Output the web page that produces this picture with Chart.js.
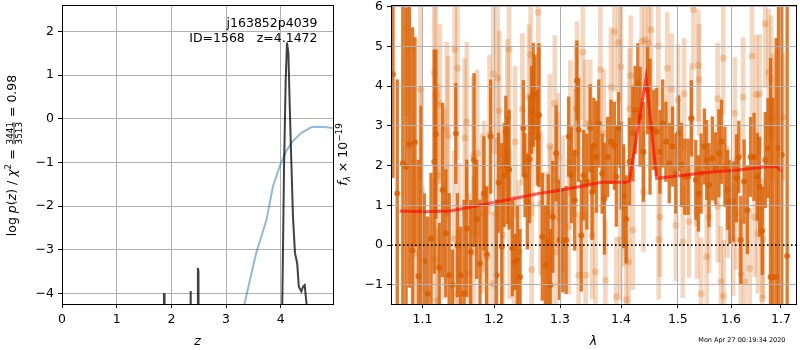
<!DOCTYPE html>
<html>
<head>
<meta charset="utf-8">
<script src="https://cdn.jsdelivr.net/npm/chart.js@4.4.0/dist/chart.umd.min.js"></script>
<style>
  html, body { margin: 0; padding: 0; background: #fff; }
  #wrap { position: relative; width: 800px; height: 350px; overflow: hidden; background: #fff; }
  canvas { position: absolute; top: 0; }
  #pz { left: 0; }
  #sp { left: 330px; }
</style>
</head>
<body>
<div id="wrap">
  <canvas id="pz" width="340" height="350" style="width:340px;height:350px"></canvas>
  <canvas id="sp" width="470" height="350" style="width:470px;height:350px"></canvas>
</div>
<script>
// ---------- redshift probability panel ----------
const objName = 'j163852p4039';
const idLine = 'ID=1568   z=4.1472';

// log p(z)
const pzZ = [0.0, 1.85, 1.865, 1.875, 2.34, 2.353, 2.365, 2.47, 2.485, 2.495,
             2.505, 3.98, 4.03, 4.06, 4.09, 4.114, 4.14, 4.163, 4.181, 4.223,
             4.26, 4.30, 4.33, 4.377, 4.406, 4.437, 4.48, 4.55, 4.95];
const pzLog = [-8, -8, -4.0, -8, -8, -3.95, -8, -8, -3.42, -3.5,
               -8, -8, -4.0, -1.1, 0.88, 1.75, 1.5, 0.33, -0.47, -2.24,
               -3.08, -3.31, -3.85, -3.96, -3.85, -3.81, -4.35, -8, -8];

// scaled chi-square curve
const chiZ = [3.30, 3.45, 3.55, 3.74, 3.857, 3.98, 4.10, 4.22, 4.38, 4.56, 4.65, 4.80, 4.95];
const chiLog = [-4.45, -3.62, -3.08, -2.31, -1.55, -1.09, -0.74, -0.51, -0.32, -0.19, -0.18, -0.19, -0.21];

const zTicks = [0, 1, 2, 3, 4];
const pzTicks = [-4, -3, -2, -1, 0, 1, 2];

// ---------- spectrum panel ----------
const lambdaMin = 1.0588, lambdaMax = 1.7314;
const lambdaTicks = [1.1, 1.2, 1.3, 1.4, 1.5, 1.6, 1.7];
const fluxTicks = [-1, 0, 1, 2, 3, 4, 5, 6];

// first spectrum (dark)
const darkWave = [
  1.0613, 1.0669, 1.0741, 1.0784, 1.0827, 1.0870, 1.0901, 1.0946, 1.0982, 1.1026,
  1.1070, 1.1115, 1.1159, 1.1181, 1.1227, 1.1272, 1.1317, 1.1363, 1.1409, 1.1455,
  1.1478, 1.1524, 1.1571, 1.1608, 1.1664, 1.1711, 1.1749, 1.1796, 1.1853, 1.1891, 1.1949,
  1.2036, 1.2065, 1.2113, 1.2148, 1.2172, 1.2197, 1.2221, 1.2270, 1.2309, 1.2344,
  1.2384, 1.2434, 1.2459, 1.2494, 1.2529, 1.2560, 1.2585, 1.2611, 1.2647, 1.2671,
  1.2723, 1.2774, 1.2815, 1.2851, 1.2887, 1.2939, 1.2991, 1.3044, 1.3096, 1.3138,
  1.3180, 1.3233, 1.3270, 1.3297, 1.3340, 1.3377, 1.3431, 1.3485,
  1.3517, 1.3545, 1.3588, 1.3627, 1.3682, 1.3720, 1.3775, 1.3830, 1.3886, 1.3920,
  1.3959, 1.4003, 1.4043, 1.4088, 1.4145, 1.4202, 1.4242, 1.4288, 1.4328, 1.4386,
  1.4456, 1.4502, 1.4561, 1.4619, 1.4678, 1.4725, 1.4784, 1.4844, 1.4904, 1.4964,
  1.5012, 1.5066, 1.5127, 1.5188, 1.5249,
  1.5330, 1.5379, 1.5429, 1.5491, 1.5534, 1.5578, 1.5641, 1.5704, 1.5767, 1.5818,
  1.5882, 1.5933, 1.5978, 1.6043, 1.6107, 1.6152, 1.6191, 1.6256, 1.6321, 1.6387,
  1.6453, 1.6519, 1.6566, 1.6619, 1.6680, 1.6734, 1.6787, 1.6835, 1.6903, 1.6950,
  1.7018, 1.7129
];
const darkFlux = [
  4.3, 1.3, 2.06, 1.97, 2.54, -0.13, 2.59, -0.78, 0.9, -0.4,
  -1.22, 0.17, 2.1, 2.79, -0.57, 1.39, 0.3, -0.76, -1.0, 2.81,
  0.0, -0.76, -1.22, 0.42, -0.17, 2.14, 0.65, -0.46, 1.3, -0.23, 2.73,
  -0.76, 1.57, -0.04, 1.76, 2.85, 1.89, 1.9, -0.08, -0.42, -0.38,
  -0.8, 2.94, 1.76, 1.1, 2.16, 3.4, 3.78, 3.78, 2.71, 3.27,
  0.21, -0.5, 0.08, -1.0, 0.71, 2.31, 0.13, 0.12, 0.13, 2.73,
  1.76, 1.13, 4.14, 2.9, 0.24, 1.76, 1.6, 2.94,
  1.34, 2.5, 2.22, 3.06, 1.8, 1.17, 2.22, 2.6, 2.5, 1.72,
  2.94, 2.0, 1.23, 0.65, 2.1, 2.81, 3.4, 4.07, 3.23, 2.35,
  3.9, 2.98, 2.9, 2.85, 2.35, 3.06, 2.6, 2.06, 2.48, 1.8,
  2.81, 2.02, 1.72, 1.72, 3.19,
  1.64, 1.3, 1.8, 2.48, 2.14, 1.51, 2.18, 1.93, 2.31, 2.6,
  1.97, 1.39, 1.09, 1.1, 1.68, 2.22, 0.13, 1.6, 0.88, 2.22,
  2.22, 1.72, 1.47, 0.36, 2.14, 2.44, -0.8, -0.8, -0.8, 2.44,
  2.27, -0.27
];
const darkErr = [
  2.6, 2.86, 4.5, 4.0, 3.6, 5.6, 2.63, 2.92, 2.6, 1.7,
  1.93, 1.64, 2.81, 2.12, 1.12, 2.18, 1.6, 2.06, 0.88, 1.26,
  1.3, 1.22, 2.35, 1.72, 1.3, 2.18, 1.49, 1.6, 1.43, 1.7, 1.43,
  1.9, 1.25, 2.6, 1.3, 0.9, 1.35, 1.5, 1.2, 0.7, 1.35,
  1.2, 1.2, 1.05, 1.2, 1.6, 1.1, 1.3, 1.0, 1.2, 1.8,
  1.6, 1.5, 1.7, 1.4, 1.4, 1.2, 1.5, 1.3, 1.35, 1.0,
  1.2, 1.26, 1.0, 1.3, 1.4, 1.13, 1.2, 1.1,
  1.2, 1.2, 1.4, 1.1, 1.0, 1.4, 1.0, 1.05, 1.1, 1.25,
  0.9, 1.1, 1.3, 1.1, 1.1, 1.2, 1.1, 1.0, 1.25, 1.25,
  1.1, 1.7, 1.0, 1.1, 1.05, 1.1, 1.0, 1.0, 1.0, 1.0,
  0.95, 1.05, 0.95, 0.95, 0.95,
  1.0, 0.95, 1.0, 0.95, 1.0, 1.05, 1.05, 0.9, 1.1, 1.05,
  1.0, 1.0, 1.05, 1.0, 1.1, 0.9, 1.1, 1.05, 1.1, 1.0,
  1.1, 1.1, 1.25, 1.1, 1.2, 1.25, 5.5, 4.5, 6.0, 4.5,
  4.5, 6.5
];

// second spectrum (pale)
const lightWave = [
  1.0784, 1.0814, 1.0894, 1.0973, 1.0991, 1.1159, 1.1165, 1.1181, 1.1213, 1.1204,
  1.1236, 1.1295, 1.1331, 1.1349, 1.1432, 1.1441, 1.1478, 1.1485, 1.1500, 1.1580,
  1.1608, 1.1640, 1.1702, 1.1711, 1.1758, 1.1829, 1.1853, 1.1901, 1.1934, 1.1978,
  1.1988, 1.2026, 1.2051, 1.2075, 1.2124, 1.2197, 1.2221, 1.2228, 1.2294, 1.2309,
  1.2369, 1.2419, 1.2519, 1.2544, 1.2560, 1.2570, 1.2661, 1.2668, 1.2697, 1.2774,
  1.2840, 1.2851, 1.2918, 1.2929, 1.2955, 1.2981, 1.3044, 1.3138, 1.3165, 1.3243,
  1.3254, 1.3270, 1.3297, 1.3366, 1.3404, 1.3411, 1.3485,
  1.3517, 1.3572, 1.3654, 1.3709, 1.3737, 1.3830, 1.3888, 1.3920, 1.3959, 1.3987,
  1.3999, 1.4043, 1.4088, 1.4128, 1.4145, 1.4168, 1.4202, 1.4357, 1.4386, 1.4415,
  1.4473, 1.4520, 1.4648, 1.4655, 1.4678, 1.4808, 1.4886, 1.4964, 1.5006, 1.5090,
  1.5115, 1.5206, 1.5249,
  1.5287, 1.5355, 1.5379, 1.5391, 1.5429, 1.5534, 1.5578, 1.5742, 1.5749, 1.5805,
  1.5850, 1.5857, 1.5933, 1.6043, 1.6075, 1.6107, 1.6191, 1.6237, 1.6269, 1.6367,
  1.6413, 1.6466, 1.6499, 1.6532, 1.6566, 1.6619, 1.6633, 1.6680, 1.6747, 1.6801,
  1.6835, 1.7038
];
const lightFlux = [
  5.46, 4.91, -0.21, 3.92, 1.39, 4.34, -0.34, 3.78, 1.76, -1.39,
  3.55, 1.05, 2.9, 2.75, 0.17, 4.93, 4.45, -1.22, -0.04, 2.7,
  3.1, -0.71, 2.24, -0.17, 2.31, 0.8, 1.22, -0.29, 2.78, -0.97,
  4.31, 0.8, 4.2, 3.38, 0.25, 3.27, 4.93, 0.55, -0.46, 2.6,
  -0.17, 3.42, 3.74, 4.79, -0.61, 2.54, 5.85, 3.27, 1.05, 0.13,
  2.49, 0.8, 3.57, -0.17, 1.64, 2.22, 1.05, 0.46, 2.94, 2.31,
  3.44, 3.92, -0.76, 4.85, 3.06, -0.76, 3.06,
  0.25, -0.67, 4.42, 2.81, -0.88, 3.97, 5.37, -1.3, 5.1, 0.13,
  4.49, 0.97, -1.37, -0.42, 3.44, 4.27, 0.38, 5.12, 1.34, 5.16,
  5.08, 5.42, 5.01, 0.14, 0.71, 4.45, 3.92, 0.5, 3.65, 0.08,
  3.8, 0.59, 3.17,
  5.92, 0.56, 4.52, 4.16, -1.22, -0.29, 0.71, 3.68, 0.97, -0.92,
  4.7, -1.28, 1.09, 0.13, 3.32, 0.8, -0.73, 3.72, -0.92, -0.59,
  4.76, 0.71, 3.78, 0.29, 3.8, -1.34, 0.17, 5.57, 4.34, 4.17,
  3.22, 3.22
];
const lightErr = [
  2.2, 2.5, 2.4, 2.3, 2.6, 2.2, 2.0, 2.4, 2.3, 1.8,
  2.0, 2.4, 2.2, 2.0, 2.2, 2.0, 2.3, 1.6, 2.1, 2.0,
  2.0, 2.0, 2.0, 1.9, 2.1, 2.0, 1.9, 1.8, 2.0, 1.8,
  2.0, 1.9, 1.9, 2.0, 1.8, 1.9, 1.8, 1.9, 1.7, 1.9,
  1.8, 1.9, 1.8, 1.7, 1.7, 1.8, 1.8, 1.7, 1.8, 1.7,
  1.8, 1.7, 1.7, 1.6, 1.7, 1.6, 1.7, 1.7, 1.7, 1.6,
  1.6, 1.7, 1.6, 1.7, 1.6, 1.6, 1.6,
  1.6, 1.6, 1.6, 1.6, 1.5, 1.5, 1.5, 1.5, 1.5, 1.5,
  1.5, 1.5, 1.5, 1.5, 1.5, 1.5, 1.5, 1.5, 1.5, 1.5,
  1.5, 1.5, 1.5, 1.5, 1.5, 1.4, 1.4, 1.4, 1.4, 1.4,
  1.4, 1.4, 1.4,
  1.5, 1.4, 1.4, 1.4, 1.4, 1.4, 1.4, 1.4, 1.4, 1.4,
  1.4, 1.4, 1.4, 1.4, 1.4, 1.4, 1.4, 1.5, 1.5, 1.5,
  1.5, 1.5, 1.5, 1.5, 1.5, 1.5, 1.5, 1.6, 1.6, 1.6,
  1.6, 1.6
];

// best-fit template
const modelWave = [1.070, 1.100, 1.137, 1.169, 1.198, 1.232, 1.267, 1.293, 1.330, 1.367,
                   1.409, 1.4145, 1.4432, 1.4619, 1.488, 1.549, 1.613, 1.672, 1.692, 1.702];
const modelFlux = [0.86, 0.84, 0.86, 0.965, 1.07, 1.18, 1.30, 1.36, 1.47, 1.58,
                   1.58, 1.62, 4.22, 1.68, 1.72, 1.82, 1.89, 1.97, 1.97, 1.85];

const timeStamp = 'Mon Apr 27 00:19:34 2020';

// ---------- shared styling ----------
const FONT = "'DejaVu Sans', 'Liberation Sans', sans-serif";
Chart.defaults.font.family = FONT;
Chart.defaults.font.size = 12.5;
Chart.defaults.color = '#000';

const MINUS = '\u2212';
const fmtNum = v => (v < 0 ? MINUS : '') + Math.abs(v);

const DARK = 'rgba(217,95,2,0.82)';
const LIGHT = 'rgba(217,95,2,0.25)';
const GRID = '#b0b0b0';

const framePlugin = {
  id: 'frame',
  afterDraw(chart) {
    const { ctx, chartArea: a } = chart;
    ctx.save();
    ctx.strokeStyle = '#000';
    ctx.lineWidth = 1;
    ctx.strokeRect(a.left + 0.5, a.top + 0.5, a.right - a.left, a.bottom - a.top);
    ctx.restore();
  }
};

// draws a row of text runs (with optional fraction) centred on cx at baseline y
function drawRuns(ctx, runs, cx, y) {
  const widths = runs.map(r => {
    ctx.font = r.font;
    if (r.num) {
      return Math.max(ctx.measureText(r.num).width, ctx.measureText(r.den).width) + 2;
    }
    return ctx.measureText(r.text).width;
  });
  const total = widths.reduce((s, w) => s + w, 0);
  let x = cx - total / 2;
  ctx.textBaseline = 'alphabetic';
  runs.forEach((r, i) => {
    ctx.font = r.font;
    if (r.num) {
      const w = widths[i];
      const bar = y - 2;
      ctx.textAlign = 'center';
      ctx.fillText(r.num, x + w / 2, bar - 1.2);
      ctx.fillText(r.den, x + w / 2, bar + 7.6);
      ctx.fillRect(x + 1, bar - 0.4, w - 2, 0.8);
    } else {
      ctx.textAlign = 'left';
      ctx.fillText(r.text, x, y + (r.dy || 0));
    }
    x += widths[i];
  });
}

const N = '12.5px ' + FONT;
const I = 'italic 12.5px ' + FONT;
const S = '8.8px ' + FONT;
const SI = 'italic 8.8px ' + FONT;

const pzText = {
  id: 'pzText',
  afterDraw(chart) {
    const { ctx, chartArea: a } = chart;
    ctx.save();
    ctx.fillStyle = '#000';
    ctx.font = N;
    ctx.textAlign = 'right';
    ctx.textBaseline = 'alphabetic';
    ctx.fillText(objName, a.right - 15.5, 27);
    ctx.fillText(idLine, a.right - 15.5, 41.5);

    ctx.font = I;
    ctx.textAlign = 'center';
    ctx.fillText('z', (a.left + a.right) / 2, 345);

    ctx.translate(12, (a.top + a.bottom) / 2 + 1);
    ctx.rotate(-Math.PI / 2);
    drawRuns(ctx, [
      { text: 'log ', font: N },
      { text: 'p', font: I },
      { text: '(', font: N },
      { text: 'z', font: I },
      { text: ') / ', font: N },
      { text: '\u03c7', font: I },
      { text: '2', font: S, dy: -5 },
      { text: ' = ', font: N },
      { num: '3441', den: '3513', font: S },
      { text: ' = 0.98', font: N }
    ], 0, 4);
    ctx.restore();
  }
};

const specText = {
  id: 'specText',
  afterDraw(chart) {
    const { ctx, chartArea: a } = chart;
    ctx.save();
    ctx.fillStyle = '#000';
    ctx.font = I;
    ctx.textAlign = 'center';
    ctx.textBaseline = 'alphabetic';
    ctx.fillText('\u03bb', (a.left + a.right) / 2, 345);

    ctx.font = '6.5px ' + FONT;
    ctx.textAlign = 'right';
    ctx.fillText(timeStamp, a.right - 10.5, 341.5);

    ctx.translate(13, (a.top + a.bottom) / 2);
    ctx.rotate(-Math.PI / 2);
    drawRuns(ctx, [
      { text: 'f', font: I },
      { text: '\u03bb', font: SI, dy: 3 },
      { text: ' \u00d7 10', font: N },
      { text: MINUS + '19', font: S, dy: -5 }
    ], 0, 4);
    ctx.restore();
  }
};

function tickSetter(values) {
  return scale => { scale.ticks = values.map(v => ({ value: v })); };
}

// ---------- left chart ----------
new Chart(document.getElementById('pz'), {
  type: 'line',
  data: {
    datasets: [
      {
        data: pzZ.map((z, i) => ({ x: z, y: pzLog[i] })),
        borderColor: 'rgba(0,0,0,0.75)',
        borderWidth: 2,
        pointRadius: 0,
        order: 0
      },
      {
        data: chiZ.map((z, i) => ({ x: z, y: chiLog[i] })),
        borderColor: 'rgba(31,119,180,0.5)',
        borderWidth: 2,
        pointRadius: 0,
        order: 1
      }
    ]
  },
  options: {
    responsive: false,
    devicePixelRatio: 1,
    animation: false,
    events: [],
    plugins: { legend: { display: false }, tooltip: { enabled: false } },
    layout: { padding: { top: 5, right: 7, left: 0, bottom: 0 } },
    scales: {
      x: {
        type: 'linear', min: 0, max: 4.955,
        afterBuildTicks: tickSetter(zTicks),
        afterFit: s => { s.height = 46; s.paddingLeft = 0; s.paddingRight = 0; },
        ticks: { callback: fmtNum, padding: 4, maxRotation: 0, autoSkip: false },
        grid: { color: GRID, lineWidth: 1, tickColor: '#000', tickLength: 4, tickWidth: 1 },
        border: { display: false }
      },
      y: {
        type: 'linear', min: -4.246, max: 2.61,
        afterBuildTicks: tickSetter(pzTicks),
        afterFit: s => { s.width = 62; s.paddingTop = 0; s.paddingBottom = 0; },
        ticks: { callback: fmtNum, padding: 4, autoSkip: false },
        grid: { color: GRID, lineWidth: 1, tickColor: '#000', tickLength: 4, tickWidth: 1 },
        border: { display: false }
      }
    }
  },
  plugins: [framePlugin, pzText]
});

// ---------- right chart ----------
const errBars = (w, f, e) => w.map((x, i) => ({ x, y: [f[i] - e[i], f[i] + e[i]] }));
const pts = (w, f) => w.map((x, i) => ({ x, y: f[i] }));

new Chart(document.getElementById('sp'), {
  type: 'bar',
  data: {
    datasets: [
      {
        type: 'line', data: pts(modelWave, modelFlux),
        borderColor: 'rgba(255,0,0,0.62)', borderWidth: 3, pointRadius: 0, order: 1
      },
      {
        type: 'line', data: pts([lambdaMin, lambdaMax], [0, 0]),
        borderColor: '#000', borderWidth: 1.6, borderDash: [1.6, 2.4],
        borderCapStyle: 'butt', pointRadius: 0, order: 2
      },
      {
        type: 'line', data: pts(lightWave, lightFlux), showLine: false,
        pointRadius: 3.5, pointBorderWidth: 0, pointBackgroundColor: LIGHT, order: 3
      },
      {
        type: 'bar', data: errBars(lightWave, lightFlux, lightErr),
        backgroundColor: LIGHT, borderWidth: 0, barThickness: 4, stack: 'err', order: 4
      },
      {
        type: 'line', data: pts(darkWave, darkFlux), showLine: false,
        pointRadius: 3, pointBorderWidth: 0, pointBackgroundColor: DARK, order: 5
      },
      {
        type: 'bar', data: errBars(darkWave, darkFlux, darkErr),
        backgroundColor: DARK, borderWidth: 0, barThickness: 2.7, stack: 'err', order: 6
      }
    ]
  },
  options: {
    responsive: false,
    devicePixelRatio: 1,
    animation: false,
    events: [],
    plugins: { legend: { display: false }, tooltip: { enabled: false } },
    layout: { padding: { top: 5, right: 1, left: 0, bottom: 0 } },
    scales: {
      x: {
        type: 'logarithmic', min: lambdaMin, max: lambdaMax, offset: false,
        afterBuildTicks: tickSetter(lambdaTicks),
        afterFit: s => { s.height = 46; s.paddingLeft = 0; s.paddingRight = 0; },
        ticks: { callback: v => Number(v).toFixed(1), padding: 4, maxRotation: 0, autoSkip: false },
        grid: { offset: false, z: 1, color: GRID, lineWidth: 1, tickColor: '#000', tickLength: 4, tickWidth: 1 },
        border: { display: false }
      },
      y: {
        type: 'linear', min: -1.48, max: 6.04, stacked: false,
        afterBuildTicks: tickSetter(fluxTicks),
        afterFit: s => { s.width = 61; s.paddingTop = 0; s.paddingBottom = 0; },
        ticks: { callback: fmtNum, padding: 4, autoSkip: false },
        grid: {
          z: 1, lineWidth: 1, tickColor: '#000', tickLength: 4, tickWidth: 1,
          // the dotted zero line takes the place of the grid line at 0
          color: c => (c.tick && c.tick.value === 0 ? 'rgba(0,0,0,0)' : GRID)
        },
        border: { display: false }
      }
    }
  },
  plugins: [framePlugin, specText]
});
</script>
</body>
</html>
